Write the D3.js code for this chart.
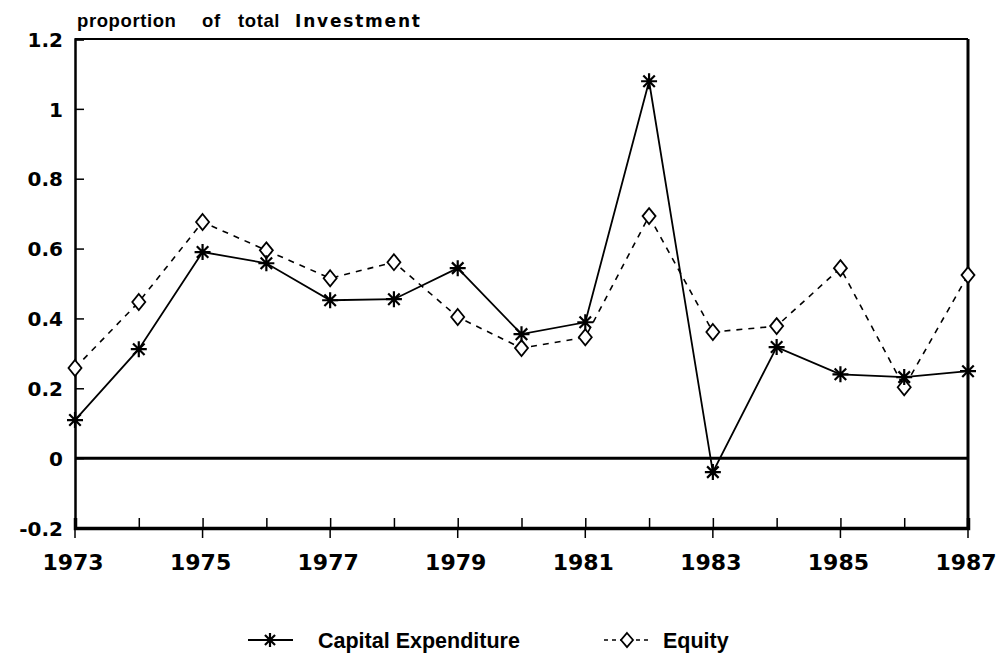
<!DOCTYPE html>
<html>
<head>
<meta charset="utf-8">
<script src="https://cdn.jsdelivr.net/npm/d3@7"></script>
<style>
  body { margin: 0; background: #fff; }
  svg { font-family: "Liberation Sans", Arial, sans-serif; }
</style>
</head>
<body>
<div id="chart"></div>
<script>
var years = [1973,1974,1975,1976,1977,1978,1979,1980,1981,1982,1983,1984,1985,1986,1987]
var capex = [0.109,0.312,0.590,0.558,0.452,0.455,0.544,0.355,0.389,1.079,-0.040,0.318,0.240,0.232,0.249]
var equity = [0.258,0.447,0.676,0.595,0.515,0.561,0.404,0.315,0.346,0.693,0.361,0.378,0.544,0.203,0.524]
var yTicks = [-0.2,0,0.2,0.4,0.6,0.8,1,1.2]
var xLabels = [1973,1975,1977,1979,1981,1983,1985,1987]
var titleWords = ["proportion", "of", "total", "Investment"]

var W = 999, H = 658
var m = {top: 39, right: 31, bottom: 130, left: 75}
var tickFont = "'DejaVu Sans', sans-serif"

var svg = d3.select("#chart").append("svg")
  .attr("width", W)
  .attr("height", H)

var x = d3.scaleLinear().domain([1973,1987]).range([m.left, W - m.right])
var y = d3.scaleLinear().domain([-0.2,1.2]).range([H - m.bottom, m.top])

// frame
svg.append("line").attr("x1", x(1973)).attr("x2", x(1987)).attr("y1", y(1.2)).attr("y2", y(1.2))
  .attr("stroke", "#000").attr("stroke-width", 2)
svg.append("line").attr("x1", x(1987)).attr("x2", x(1987)).attr("y1", y(1.2)).attr("y2", y(-0.2))
  .attr("stroke", "#000").attr("stroke-width", 3)

// zero line
svg.append("line").attr("x1", x(1973)).attr("x2", x(1987)).attr("y1", y(0)).attr("y2", y(0))
  .attr("stroke", "#000").attr("stroke-width", 3)

// y axis
var yAxis = d3.axisLeft(y).tickValues(yTicks).tickSize(-9).tickPadding(12)
  .tickFormat(function(d){ return String(+d.toFixed(1)) })
var gy = svg.append("g").attr("transform", "translate(" + m.left + ",0)").call(yAxis)
gy.select(".domain").attr("stroke-width", 2.5)
gy.selectAll(".tick line").attr("stroke-width", 1.5)
gy.selectAll(".tick text").attr("font-size", "20px").attr("font-weight", "bold")
  .attr("font-family", tickFont).attr("dy", "0.36em")

// x axis
var xAxis = d3.axisBottom(x).tickValues(years).tickSize(-10).tickFormat("")
var gx = svg.append("g").attr("transform", "translate(0," + y(-0.2) + ")").call(xAxis)
gx.select(".domain").attr("stroke-width", 3.5)
gx.selectAll(".tick line").attr("stroke-width", 1.5)

gx.selectAll(".lab").data(xLabels).enter().append("line")
  .attr("x1", function(d){ return x(d) }).attr("x2", function(d){ return x(d) })
  .attr("y1", 0).attr("y2", 10).attr("stroke", "#000").attr("stroke-width", 1.5)

svg.append("g").selectAll("text").data(xLabels).enter().append("text")
  .attr("x", function(d){ return x(d) - 2 })
  .attr("y", y(-0.2) + 42)
  .attr("text-anchor", "middle")
  .attr("font-family", tickFont)
  .attr("font-size", "22px").attr("font-weight", "bold")
  .text(function(d){ return d })

// title, words spaced apart like the original
var titleX = [77, 202, 238, 295]
svg.append("g").selectAll("text").data(titleWords).enter().append("text")
  .attr("x", function(d, i){ return titleX[i] })
  .attr("y", 27)
  .attr("font-weight", function(d, i){ return i == 3 ? "900" : "bold" })
  .attr("font-family", function(d, i){ return i == 3 ? tickFont : null })
  .attr("font-size", function(d, i){ return i == 3 ? "17px" : "18.5px" })
  .attr("letter-spacing", function(d, i){ return i == 3 ? "1.8px" : "0.6px" })
  .text(function(d){ return d })

// lines
var lineGen = d3.line().x(function(d, i){ return x(years[i]) }).y(function(d){ return y(d) })

svg.append("path").datum(equity).attr("d", lineGen)
  .attr("fill", "none").attr("stroke", "#000").attr("stroke-width", 1.6)
  .attr("stroke-dasharray", "6,6")

svg.append("path").datum(capex).attr("d", lineGen)
  .attr("fill", "none").attr("stroke", "#000").attr("stroke-width", 1.8)

function star(g, r){
  g.append("path")
    .attr("d", "M" + (-r) + ",0L" + r + ",0M0," + (-r) + "L0," + r +
      "M" + (-r*0.72) + "," + (-r*0.72) + "L" + (r*0.72) + "," + (r*0.72) +
      "M" + (-r*0.72) + "," + (r*0.72) + "L" + (r*0.72) + "," + (-r*0.72))
    .attr("stroke", "#000").attr("stroke-width", 2.2).attr("fill", "none")
}
function diamond(g, w, h){
  g.append("path")
    .attr("d", "M0," + (-h) + "L" + w + ",0L0," + h + "L" + (-w) + ",0Z")
    .attr("stroke", "#000").attr("stroke-width", 1.8).attr("fill", "#fff")
}

svg.append("g").selectAll("g").data(equity).enter().append("g")
  .attr("transform", function(d, i){ return "translate(" + x(years[i]) + "," + y(d) + ")" })
  .each(function(){ diamond(d3.select(this), 6.5, 8) })

svg.append("g").selectAll("g").data(capex).enter().append("g")
  .attr("transform", function(d, i){ return "translate(" + x(years[i]) + "," + y(d) + ")" })
  .each(function(){ star(d3.select(this), 8) })

// legend
var ly = 640
var lg = svg.append("g")
lg.append("line").attr("x1", 248).attr("x2", 293).attr("y1", ly).attr("y2", ly)
  .attr("stroke", "#000").attr("stroke-width", 1.8)
star(lg.append("g").attr("transform", "translate(270," + ly + ")"), 7)
lg.append("text").attr("x", 318).attr("y", 648)
  .attr("font-size", "21.5px").attr("font-weight", "bold").text("Capital  Expenditure")

lg.append("line").attr("x1", 604).attr("x2", 651).attr("y1", ly).attr("y2", ly)
  .attr("stroke", "#000").attr("stroke-width", 1.5).attr("stroke-dasharray", "4,4")
diamond(lg.append("g").attr("transform", "translate(627," + ly + ")"), 6, 7)
lg.append("text").attr("x", 663).attr("y", 648)
  .attr("font-size", "21.5px").attr("font-weight", "bold").text("Equity")
</script>
</body>
</html>
